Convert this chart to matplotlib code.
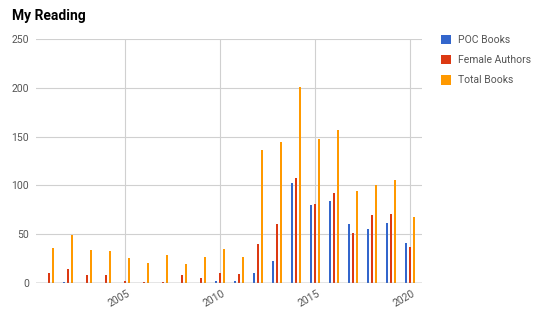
import matplotlib
matplotlib.use("Agg")
import matplotlib.pyplot as plt
import numpy as np
from matplotlib.patches import Patch
from matplotlib.transforms import ScaledTranslation

plt.rcParams['font.family'] = ['Roboto', 'DejaVu Sans']

# Dados
anos = np.arange(2001, 2021)
poc_books = [0, 1, 0, 0, 0, 0, 0, 0, 0, 2, 2, 10, 23, 103, 80, 84, 60, 55, 62, 41]
female_authors = [10, 14, 8, 8, 2, 1, 1, 8, 5, 10, 9, 40, 60, 108, 81, 92, 51, 70, 71, 37]
total_books = [36, 49, 34, 33, 26, 20, 29, 19, 27, 35, 27, 136, 145, 201, 148, 157, 94, 100, 106, 68]

series = ['POC Books', 'Female Authors', 'Total Books']
cores = ['#3366cc', '#dc3912', '#ff9900']
x_ticks = [2005, 2010, 2015, 2020]
y_ticks = [0, 50, 100, 150, 200, 250]

fig = plt.figure(figsize=(5.4, 3.19), dpi=100)
ax = fig.add_axes([0.0667, 0.1129, 0.7148, 0.7641])

largura = 0.11
desloc = 0.23
for i, (valores, cor) in enumerate(zip([poc_books, female_authors, total_books], cores)):
    ax.bar(anos + (i - 1) * desloc, valores, width=largura, color=cor, zorder=3)

ax.set_xlim(2000.32, 2020.63)
ax.set_ylim(0, 250)
ax.set_xticks(x_ticks)
ax.set_yticks(y_ticks)
ax.grid(True, color='#d0d0d0', linewidth=0.8, zorder=0)
ax.axhline(0, color='#888888', linewidth=1, zorder=4)

for lado in ax.spines.values():
    lado.set_visible(False)

ax.tick_params(length=0, colors='#555555', labelsize=7.5)
ax.tick_params(axis='y', pad=5)
ax.tick_params(axis='x', pad=4)
for rotulo in ax.get_xticklabels():
    rotulo.set_rotation(30)
    rotulo.set_ha('right')
    rotulo.set_transform(rotulo.get_transform() + ScaledTranslation(7 / 100, 0, fig.dpi_scale_trans))

fig.text(12 / 540, 1 - 16 / 319, 'My Reading', fontsize=10, fontweight='bold',
         ha='left', va='center', color='#000000')

handles = [Patch(facecolor=c, edgecolor='none') for c in cores]
fig.legend(handles, series, loc='upper left', bbox_to_anchor=(441 / 540, 1 - 35 / 319),
           frameon=False, fontsize=7.5, handlelength=1.0, handleheight=1.0,
           handletextpad=0.65, labelspacing=0.95, borderpad=0, borderaxespad=0,
           labelcolor='#555555')

fig.savefig('out.png', dpi=100)
